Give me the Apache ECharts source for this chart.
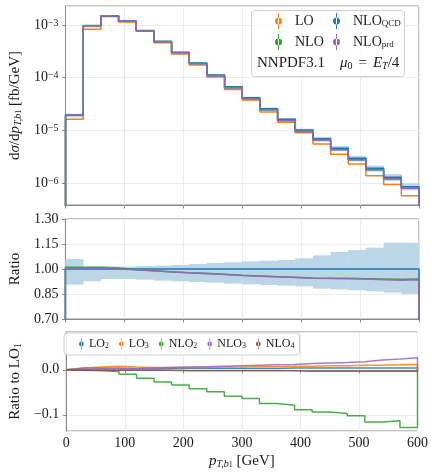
<!DOCTYPE html>
<html><head><meta charset="utf-8">
<script src="https://cdn.jsdelivr.net/npm/echarts@6/dist/echarts.min.js"></script>
<style>html,body{margin:0;padding:0;background:#fff}#c{width:431px;height:472px}</style>
</head><body><div id="c"></div>
<script>
// ---------- data ----------
const binEdges = [0,30,60,90,120,150,180,210,240,270,300,330,360,390,420,450,480,510,540,570,600];
const xTicks = [0,100,200,300,400,500,600];

// top panel: dσ/dpT [fb/GeV]
const nloQCD = [1.95e-5,9.7e-4,1.50e-3,1.19e-3,7.9e-4,4.9e-4,3.04e-4,1.90e-4,1.12e-4,6.7e-5,4.17e-5,2.58e-5,1.62e-5,1.01e-5,6.93e-6,4.56e-6,2.94e-6,1.90e-6,1.28e-6,8.5e-7];
const lo     = [1.62e-5,8.3e-4,1.46e-3,1.14e-3,7.6e-4,4.6e-4,2.83e-4,1.74e-4,1.03e-4,6.0e-5,3.77e-5,2.23e-5,1.42e-5,9.0e-6,5.5e-6,3.5e-6,2.29e-6,1.37e-6,9.4e-7,5.7e-7];

// middle panel: ratios to NLO_QCD
const ratioQCD = [1,1,1,1,1,1,1,1,1,1,1,1,1,1,1,1,1,1,1,1];
const ratioNLO = [1.010,1.010,1.006,0.996,0.990,0.984,0.978,0.974,0.968,0.962,0.958,0.954,0.950,0.946,0.944,0.944,0.942,0.940,0.938,0.940];
const ratioPrd = [1.000,1.000,1.000,0.995,0.989,0.982,0.977,0.972,0.967,0.961,0.957,0.953,0.949,0.945,0.943,0.942,0.940,0.936,0.933,0.935];
const bandLo   = [0.906,0.926,0.940,0.940,0.936,0.930,0.926,0.922,0.918,0.912,0.908,0.904,0.900,0.896,0.882,0.878,0.872,0.866,0.858,0.850];
const bandHi   = [1.060,1.015,1.016,1.014,1.018,1.020,1.024,1.030,1.036,1.040,1.046,1.050,1.054,1.064,1.082,1.102,1.114,1.128,1.158,1.158];

// bottom panel: ratio to LO_1
const rLO2  = [0.001,0.002,0.002,0.002,0.002,0.003,0.003,0.003,0.003,0.003,0.003,0.003,0.004,0.004,0.004,0.004,0.004,0.004,0.004,0.004];
const rLO3  = [0.004,0.006,0.008,0.006,0.005,0.005,0.005,0.005,0.006,0.006,0.007,0.007,0.008,0.008,0.009,0.009,0.010,0.010,0.011,0.012];
const rNLO2 = [-0.001,-0.002,-0.004,-0.010,-0.019,-0.027,-0.034,-0.042,-0.049,-0.059,-0.064,-0.075,-0.079,-0.089,-0.094,-0.097,-0.102,-0.116,-0.113,-0.128];
const rNLO3 = [0.004,0.004,0.004,0.003,0.004,0.005,0.006,0.007,0.008,0.009,0.010,0.011,0.012,0.014,0.015,0.016,0.018,0.022,0.024,0.027];
const rNLO4 = [-0.001,-0.001,-0.001,-0.001,-0.001,-0.001,-0.002,-0.002,-0.002,-0.002,-0.002,-0.002,-0.002,-0.003,-0.003,-0.003,-0.003,-0.003,-0.003,-0.003];

// ---------- helpers ----------
const FF = 'Liberation Serif';
const TXT = '#1a1a1a';
const FRAME = '#8a8a8a';
const GRIDC = '#ebebeb';
const C = {blue:'#1f77b4', orange:'#ff7f0e', green:'#2ca02c', purple:'#9467bd', brown:'#8c564b'};
const BANDC = '#bcd6e8';

function stepLine(vals, floor){
  const pts = [[binEdges[0], floor]];
  vals.forEach((v,i)=>{ pts.push([binEdges[i], v]); pts.push([binEdges[i+1], v]); });
  pts.push([binEdges[binEdges.length-1], floor]);
  return pts;
}
function bandRows(los, his){ return los.map((l,i)=>[binEdges[i], binEdges[i+1], l, his[i]]); }
function renderBand(params, api){
  const a = api.coord([api.value(0), api.value(3)]);
  const b = api.coord([api.value(1), api.value(2)]);
  return {type:'rect', shape:{x:a[0], y:a[1], width:b[0]-a[0]+0.5, height:b[1]-a[1]}, style:{fill:BANDC}};
}
const topNLO = nloQCD.map((v,i)=>v*ratioNLO[i]);
const topPrd = nloQCD.map((v,i)=>v*ratioPrd[i]);
const topBandLo = nloQCD.map((v,i)=>v*bandLo[i]);
const topBandHi = nloQCD.map((v,i)=>v*bandHi[i]);

const ICON = 'path://M3,0 L4,0 L4,16 L3,16 Z M0,8 A3.5,3.5 0 1 0 7,8 A3.5,3.5 0 1 0 0,8 Z';

function lineSeries(name, data, color, xi, opacity){
  return {type:'line', name, data, xAxisIndex:xi, yAxisIndex:xi, showSymbol:false, symbol:'none',
    color, itemStyle:{color}, lineStyle:{color, width:1.5, opacity: opacity||1}, silent:true, z:3, clip:true};
}

const gridBase = {left:62, right:12, show:true, borderColor:FRAME, borderWidth:1, backgroundColor:'transparent'};
function xAxis(i, labels){
  return {type:'value', gridIndex:i, min:0, max:600, interval:100,
    axisLine:{show:true, lineStyle:{color:FRAME, width:1}},
    axisTick:{show:true, length:3.5, inside:false, lineStyle:{color:FRAME}},
    axisLabel:{show:labels, fontFamily:FF, fontSize:14, color:TXT, margin:5},
    splitLine:{show:true, lineStyle:{color:GRIDC, width:1}}};
}
const yCommon = {
  axisLine:{show:true, lineStyle:{color:FRAME, width:1}},
  axisTick:{show:true, length:3.5, inside:false, lineStyle:{color:FRAME}},
  splitLine:{show:true, lineStyle:{color:GRIDC, width:1}},
  nameLocation:'middle', nameRotate:90
};
const richBase = {fontFamily:FF, color:TXT, fontWeight:'normal'};

const option = {
  animation:false,
  backgroundColor:'#fff',
  grid:[
    Object.assign({top:6, height:199}, gridBase),
    Object.assign({top:219, height:100}, gridBase),
    Object.assign({top:332, height:99}, gridBase)
  ],
  xAxis:[xAxis(0,false), xAxis(1,false), Object.assign(xAxis(2,true), {
    name:'{i|p}{s|T,b}{ss|1}{r| [GeV]}', nameLocation:'middle', nameGap:23,
    nameTextStyle:{fontFamily:FF, fontSize:15, color:TXT, rich:{
      i:Object.assign({fontSize:15, fontStyle:'italic'}, richBase),
      s:Object.assign({fontSize:10, fontStyle:'italic', verticalAlign:'bottom'}, richBase),
      ss:Object.assign({fontSize:8, verticalAlign:'bottom'}, richBase),
      r:Object.assign({fontSize:15}, richBase)}}
  })],
  yAxis:[
    Object.assign({}, yCommon, {type:'log', logBase:10, gridIndex:0, min:3.82e-7, max:2.30e-3,
      axisLabel:{fontFamily:FF, fontSize:14, color:TXT, margin:7, showMinLabel:false, showMaxLabel:false,
        formatter:(v)=>{ const e=Math.round(Math.log10(v)); if (Math.abs(Math.log10(v)-e)>1e-6) return ''; return '{b|10}{e|'+(e<0?'−':'')+Math.abs(e)+'}'; },
        rich:{b:Object.assign({fontSize:14}, richBase), e:Object.assign({fontSize:10, verticalAlign:'top'}, richBase)}},
      name:'{r|d}{i|σ}{r|/d}{i|p}{s|T,b}{ss|1}{r| [fb/GeV]}', nameGap:32,
      nameTextStyle:{fontFamily:FF, fontSize:15, color:TXT, rich:{
        i:Object.assign({fontSize:15, fontStyle:'italic'}, richBase),
        s:Object.assign({fontSize:10, fontStyle:'italic', verticalAlign:'bottom'}, richBase),
        ss:Object.assign({fontSize:8, verticalAlign:'bottom'}, richBase),
        r:Object.assign({fontSize:15}, richBase)}}}),
    Object.assign({}, yCommon, {type:'value', gridIndex:1, min:0.70, max:1.30, interval:0.15,
      axisLabel:{fontFamily:FF, fontSize:14, color:TXT, margin:7, formatter:(v)=>v.toFixed(2)},
      name:'Ratio', nameGap:38, nameTextStyle:{fontFamily:FF, fontSize:15, color:TXT}}),
    Object.assign({}, yCommon, {type:'value', gridIndex:2, min:-0.136, max:0.084, minInterval:0.1, maxInterval:0.1,
      axisLabel:{fontFamily:FF, fontSize:14, color:TXT, margin:7, showMinLabel:false, showMaxLabel:false,
        formatter:(v)=>{ if (Math.abs(v)<1e-9) return '0.0'; if (Math.abs(Math.abs(v)-0.1)>1e-6 && Math.abs(Math.abs(v)-0.2)>1e-6) return ''; return (v<0?'−':'')+Math.abs(v).toFixed(1); }},
      name:'{r|Ratio to LO}{s|1}', nameGap:38,
      nameTextStyle:{fontFamily:FF, fontSize:15, color:TXT, rich:{
        r:Object.assign({fontSize:15}, richBase),
        s:Object.assign({fontSize:10, verticalAlign:'bottom'}, richBase)}}})
  ],
  title:{
    text:'{t|NNPDF3.1}{g|}{m|μ}{s|0}{q|=}{m|E}{si|T}{t|/4}',
    left:251, top:10, padding:[46,5,6,6], z:1,
    backgroundColor:'rgba(255,255,255,0.8)', borderColor:'#cfcfcf', borderWidth:1, borderRadius:3,
    textStyle:{fontFamily:FF, fontSize:15, color:TXT, fontWeight:'normal', rich:{
      t:Object.assign({fontSize:15}, richBase),
      g:{width:15},
      m:Object.assign({fontSize:15, fontStyle:'italic'}, richBase),
      s:Object.assign({fontSize:10, verticalAlign:'bottom'}, richBase),
      si:Object.assign({fontSize:10, fontStyle:'italic', verticalAlign:'bottom'}, richBase),
      q:Object.assign({fontSize:15, padding:[0,6,0,6]}, richBase)}}
  },
  legend:[
    {data:[{name:'LO',icon:ICON},{name:'NLO',icon:ICON}], orient:'vertical', left:275, top:13,
     itemWidth:7, itemHeight:16, itemGap:5, selectedMode:false, z:10, padding:0,
     formatter:(n)=>'{n|'+n+'}',
     textStyle:{fontFamily:FF, fontSize:14, color:TXT, rich:{n:Object.assign({fontSize:14, padding:[0,0,0,8]}, richBase)}}},
    {data:[{name:'NLO_QCD',icon:ICON},{name:'NLO_prd',icon:ICON}], orient:'vertical', left:333, top:13,
     itemWidth:7, itemHeight:16, itemGap:5, selectedMode:false, z:10, padding:0,
     formatter:(n)=>{ const p=n.split('_'); return '{n|'+p[0]+'}{s|'+p[1]+'}'; },
     textStyle:{fontFamily:FF, fontSize:14, color:TXT, rich:{
       n:Object.assign({fontSize:14, padding:[0,0,0,8]}, richBase),
       s:Object.assign({fontSize:9, verticalAlign:'bottom'}, richBase)}}},
    {data:['LO2','LO3','NLO2','NLO3','NLO4'].map(n=>({name:n, icon:ICON})), orient:'horizontal', left:64, top:333,
     itemWidth:5, itemHeight:11, itemGap:10, selectedMode:false, z:10, padding:[5,5,5,15],
     backgroundColor:'rgba(255,255,255,0.8)', borderColor:'#cfcfcf', borderWidth:1, borderRadius:3,
     formatter:(n)=>{ const m=n.match(/^([A-Z]+)(\d)$/); return '{n|'+m[1]+'}{s|'+m[2]+'}'; },
     textStyle:{fontFamily:FF, fontSize:12, color:TXT, rich:{
       n:Object.assign({fontSize:12}, richBase),
       s:Object.assign({fontSize:8, verticalAlign:'bottom'}, richBase)}}}
  ],
  series:[
    {type:'custom', name:'bandTop', xAxisIndex:0, yAxisIndex:0, renderItem:renderBand, clip:true, silent:true, z:1,
     data:bandRows(topBandLo, topBandHi), encode:{x:[0,1], y:[2,3]}},
    lineSeries('LO', stepLine(lo, 1e-12), C.orange, 0),
    lineSeries('NLO', stepLine(topNLO, 1e-12), C.green, 0),
    lineSeries('NLO_QCD', stepLine(nloQCD, 1e-12), C.blue, 0),
    lineSeries('NLO_prd', stepLine(topPrd, 1e-12), C.purple, 0, 0.95),

    {type:'custom', name:'bandRatio', xAxisIndex:1, yAxisIndex:1, renderItem:renderBand, clip:true, silent:true, z:1,
     data:bandRows(bandLo, bandHi), encode:{x:[0,1], y:[2,3]}},
    lineSeries('rQCD', stepLine(ratioQCD, 0), C.blue, 1),
    lineSeries('rNLO', stepLine(ratioNLO, 0), C.green, 1, 0.9),
    lineSeries('rPrd', stepLine(ratioPrd, 0), C.purple, 1, 0.95),

    lineSeries('LO2', stepLine(rLO2, 0), C.blue, 2, 0.85),
    lineSeries('LO3', stepLine(rLO3, 0), C.orange, 2, 0.85),
    lineSeries('NLO2', stepLine(rNLO2, 0), C.green, 2, 0.85),
    lineSeries('NLO3', stepLine(rNLO3, 0), C.purple, 2, 0.85),
    lineSeries('NLO4', stepLine(rNLO4, 0), C.brown, 2, 0.85)
  ]
};
const chart = echarts.init(document.getElementById('c'), null, {renderer:'canvas'});
chart.setOption(option);
</script>
</body></html>
